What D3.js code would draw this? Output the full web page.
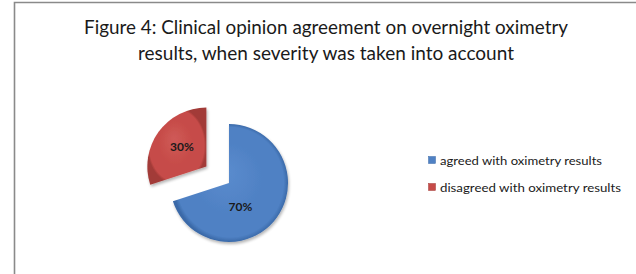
<!DOCTYPE html>
<html><head><meta charset="utf-8">
<script src="https://cdn.jsdelivr.net/npm/d3@7"></script>
<style>html,body{margin:0;padding:0;background:#fff;}svg{display:block;}</style>
</head><body>
<script>
const titleLines = ["Figure 4: Clinical opinion agreement on overnight oximetry", "results, when severity was taken into account"];
const categories = ["agreed with oximetry results", "disagreed with oximetry results"];
const values = [70, 30];
const colors = ["#4F81C4", "#C64B48"];
const darkColors = ["#3a69a8", "#a23a37"];
const lightColors = ["#5b8cce", "#cf5a57"];

const W = 636, H = 274;
const svg = d3.select("body").append("svg").attr("width", W).attr("height", H);
svg.append("rect").attr("width", W).attr("height", H).attr("fill", "#fff");

// frame
svg.append("path").attr("d", `M14.5,${H} L14.5,2.5 L${W},2.5`)
  .attr("fill", "none").attr("stroke", "#8a8a8a").attr("stroke-width", 1.6);

// title
const titleFont = "Lato, 'Open Sans', sans-serif";
const tW = [484, 376];
titleLines.forEach((t, i) => {
  svg.append("text").attr("x", 326).attr("y", 34 + i * 26)
    .attr("text-anchor", "middle").attr("font-family", titleFont)
    .attr("font-size", 19.5).attr("fill", "#1a1a1a")
    .attr("textLength", tW[i]).attr("lengthAdjust", "spacingAndGlyphs")
    .text(t);
});

// gradients
const defs = svg.append("defs");
colors.forEach((c, i) => {
  const g = defs.append("radialGradient").attr("id", "g" + i)
    .attr("cx", "50%").attr("cy", "50%").attr("r", "50%").attr("fx", "45%").attr("fy", "40%");
  g.append("stop").attr("offset", "0%").attr("stop-color", lightColors[i]);
  g.append("stop").attr("offset", "60%").attr("stop-color", c);
  g.append("stop").attr("offset", "93%").attr("stop-color", c);
  g.append("stop").attr("offset", "100%").attr("stop-color", darkColors[i]);
});
const f = defs.append("filter").attr("id", "sh").attr("x", "-20%").attr("y", "-20%").attr("width", "140%").attr("height", "140%");
f.append("feGaussianBlur").attr("in", "SourceAlpha").attr("stdDeviation", 1.5).attr("result", "b");
f.append("feOffset").attr("in", "b").attr("dx", 0.5).attr("dy", 1.5).attr("result", "o");
f.append("feComponentTransfer").attr("in", "o").attr("result", "o2")
  .append("feFuncA").attr("type", "linear").attr("slope", 0.3);
const fm = f.append("feMerge");
fm.append("feMergeNode").attr("in", "o2");
fm.append("feMergeNode").attr("in", "SourceGraphic");

// pie
const cx = 229, cy = 183, R = 59, explode = [0, 28];
const pie = d3.pie().sort(null).value(d => d)(values);
const arc = d3.arc().innerRadius(0).outerRadius(R);
const labelArc = d3.arc().innerRadius(R * 0.45).outerRadius(R * 0.45);
const labelNudge = [[-10, 8], [-3, -4]];
const g = svg.append("g").attr("transform", `translate(${cx},${cy})`);
pie.forEach((p, i) => {
  const mid = (p.startAngle + p.endAngle) / 2;
  const dx = explode[i] * Math.sin(mid), dy = -explode[i] * Math.cos(mid);
  const sg = g.append("g").attr("transform", `translate(${dx},${dy})`);
  sg.append("path").attr("d", arc(p)).attr("fill", `url(#g${i})`).attr("filter", "url(#sh)");
  const c = labelArc.centroid(p);
  sg.append("text").attr("x", c[0] + labelNudge[i][0]).attr("y", c[1] + labelNudge[i][1])
    .attr("text-anchor", "middle").attr("dominant-baseline", "central")
    .attr("font-family", titleFont).attr("font-weight", "bold").attr("font-size", 12)
    .attr("fill", "#1a1a1a").text(values[i] + "%");
});

// legend
const lg = svg.append("g");
categories.forEach((c, i) => {
  const y = 160 + i * 27;
  lg.append("rect").attr("x", 428.5).attr("y", y - 3.5).attr("width", 7).attr("height", 7)
    .attr("fill", colors[i]).attr("stroke", darkColors[i]).attr("stroke-width", 0.5);
  lg.append("text").attr("x", 440).attr("y", y).attr("dominant-baseline", "central")
    .attr("font-family", titleFont).attr("font-size", 11.5).attr("fill", "#1a1a1a")
    .attr("textLength", i === 0 ? 162 : 181).attr("lengthAdjust", "spacingAndGlyphs")
    .text(c);
});
</script>
</body></html>
